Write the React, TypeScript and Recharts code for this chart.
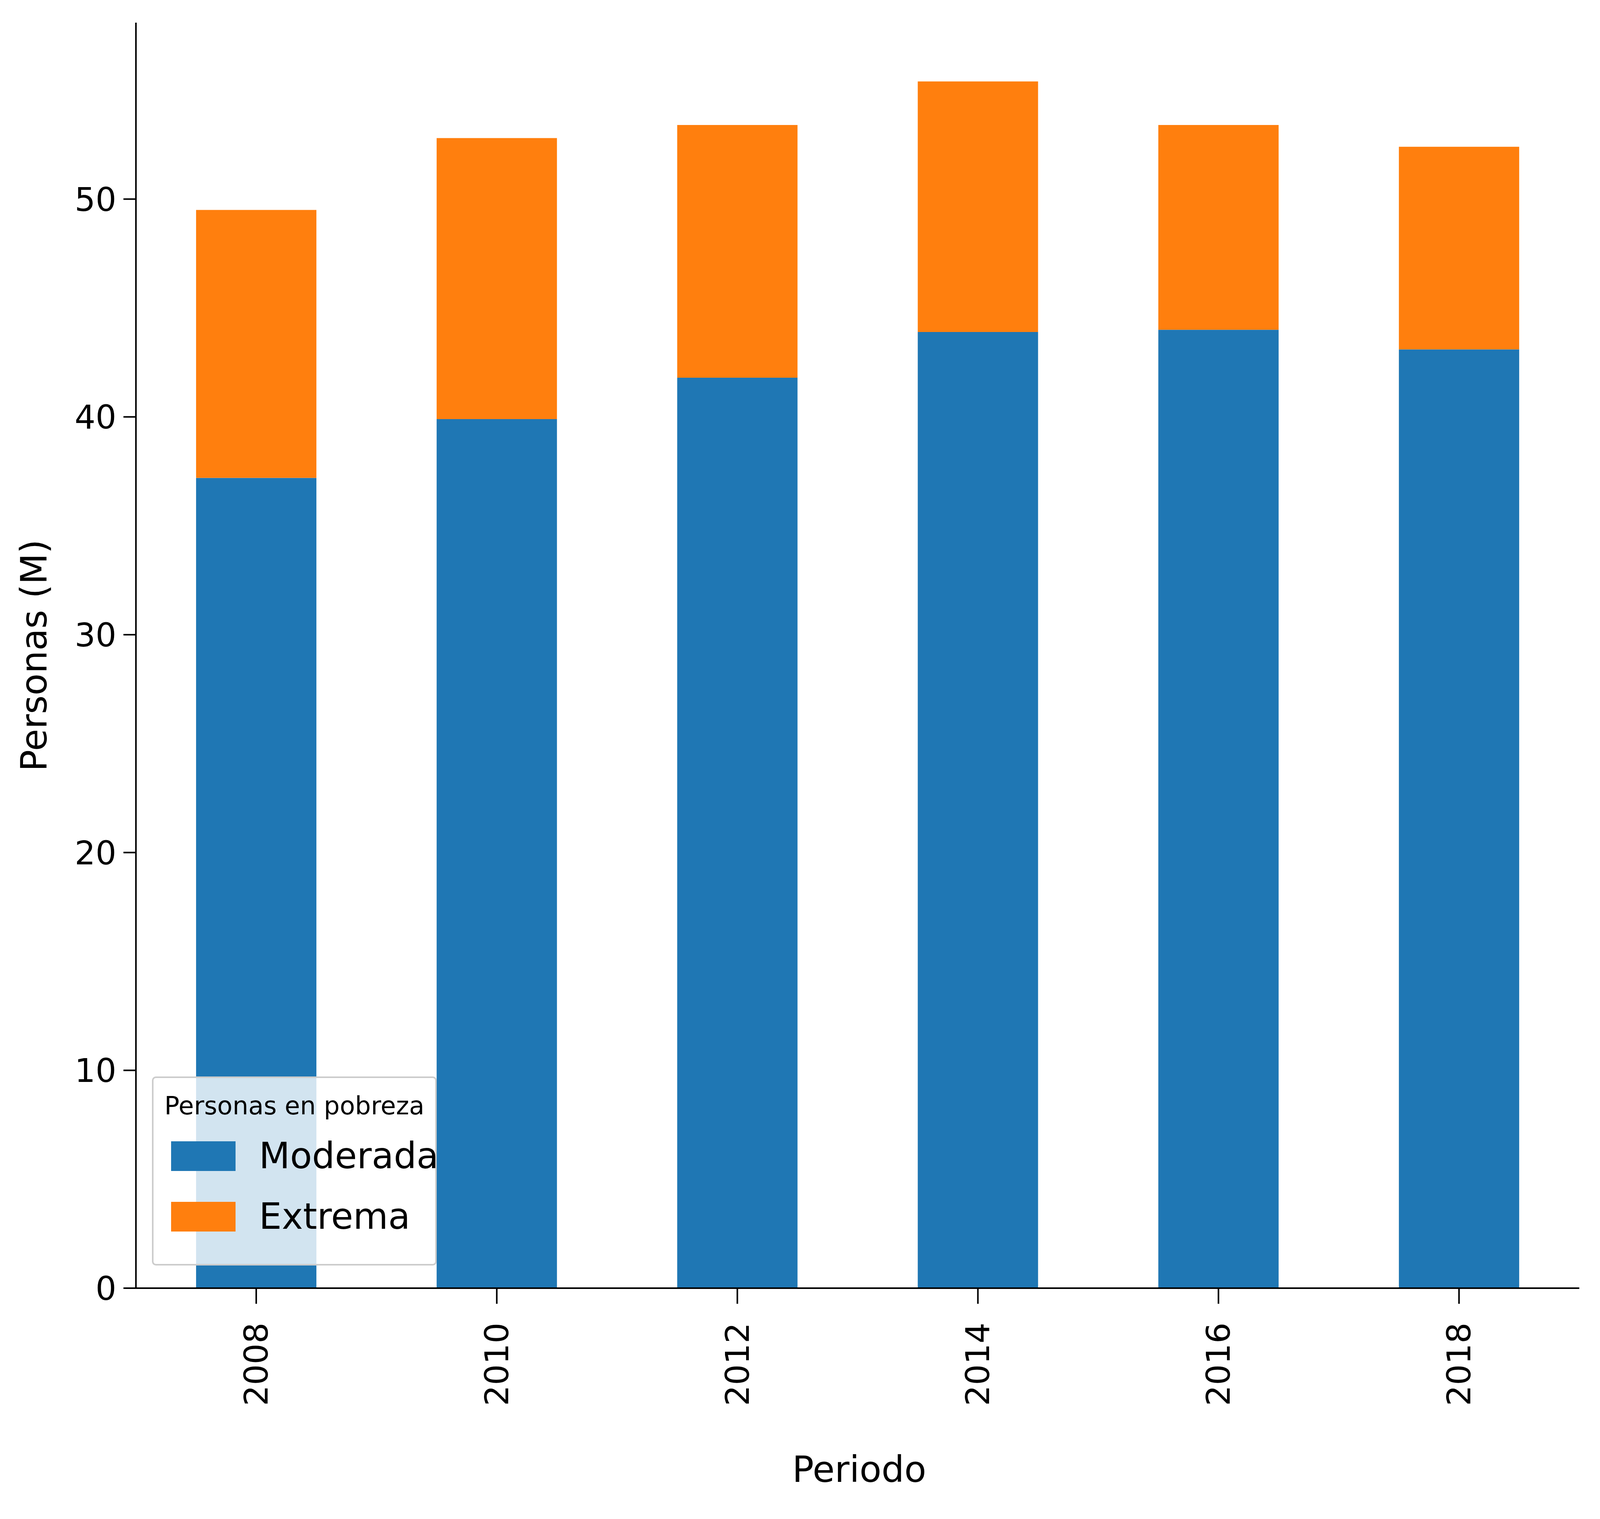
import { BarChart, Bar, XAxis, YAxis } from 'recharts';

const periods = ['2008', '2010', '2012', '2014', '2016', '2018'];
const moderada = [37.2, 39.9, 41.8, 43.9, 44.0, 43.1];
const extrema = [12.3, 12.9, 11.6, 11.5, 9.4, 9.3];
const yTicks = [0, 10, 20, 30, 40, 50];

const data = periods.map((p, i) => ({ periodo: p, moderada: moderada[i], extrema: extrema[i] }));

const FONT = 'DejaVu Sans';
// the photographed area only reaches about 4096px across, so fit the layout to that
const SX = 4096 / 5348;
const W = 4090;
const H = 3889;
const FS = 84;

const RotTick = ({ x, y, payload }: any) => (
  <text
    x={x}
    y={y}
    transform={`rotate(-90, ${x}, ${y})`}
    textAnchor="end"
    dominantBaseline="central"
    fontFamily={FONT}
    fontSize={FS}
    fill="#000"
  >
    {payload.value}
  </text>
);

export default function App() {
  const tickStyle = { fontFamily: FONT, fontSize: FS, fill: '#000' };
  const line = { stroke: '#000', strokeWidth: 4 };
  return (
    <div style={{ position: 'absolute', left: 0, top: 0, width: W, height: H, background: '#fff' }}>
      <BarChart
        width={W}
        height={H}
        data={data}
        margin={{ top: 58, right: Math.round(61 * SX), left: 0, bottom: 0 }}
        barCategoryGap="25%"
      >
        <XAxis
          dataKey="periodo"
          height={591}
          axisLine={line}
          tickLine={line}
          tickSize={40}
          tickMargin={48}
          tick={<RotTick />}
          interval={0}
        />
        <XAxis xAxisId="top" dataKey="periodo" orientation="top" height={0} axisLine={line} tick={false} tickLine={false} />
        <YAxis
          width={Math.round(454 * SX)}
          domain={[0, 58.1]}
          ticks={yTicks}
          axisLine={line}
          tickLine={line}
          tickSize={32}
          tickMargin={18}
          tick={tickStyle}
        />
        <YAxis yAxisId="right" orientation="right" width={0} domain={[0, 58.1]} axisLine={line} tick={false} tickLine={false} />
        <Bar dataKey="moderada" stackId="a" fill="#1f77b4" isAnimationActive={false} />
        <Bar dataKey="extrema" stackId="a" fill="#ff7f0e" isAnimationActive={false} />
      </BarChart>

      <div style={{ position: 'absolute', left: 113 * SX, top: 1678, transform: 'translate(-50%, -50%) rotate(-90deg)', fontFamily: FONT, fontSize: 92, whiteSpace: 'nowrap' }}>
        Personas (M)
      </div>
      <div style={{ position: 'absolute', left: 2872 * SX, top: 3762, transform: 'translate(-50%, -50%)', fontFamily: FONT, fontSize: 92, whiteSpace: 'nowrap' }}>
        Periodo
      </div>

      <div
        style={{
          position: 'absolute',
          left: 508 * SX,
          top: 2756,
          width: 952 * SX,
          height: 484,
          boxSizing: 'border-box',
          background: 'rgba(255,255,255,0.8)',
          border: '4px solid #ccc',
          borderRadius: 10,
          fontFamily: FONT,
        }}
      >
        <div style={{ position: 'absolute', left: 0, right: 0, top: 34, textAlign: 'center', fontSize: 64 }}>Personas en pobreza</div>
        {[
          { name: 'Moderada', color: '#1f77b4', top: 200 },
          { name: 'Extrema', color: '#ff7f0e', top: 355 },
        ].map((it) => (
          <div key={it.name}>
            <div style={{ position: 'absolute', left: 45, top: it.top - 38, width: 165, height: 76, background: it.color }} />
            <div style={{ position: 'absolute', left: 270, top: it.top, transform: 'translateY(-50%)', fontSize: 92, lineHeight: 1 }}>{it.name}</div>
          </div>
        ))}
      </div>
    </div>
  );
}
